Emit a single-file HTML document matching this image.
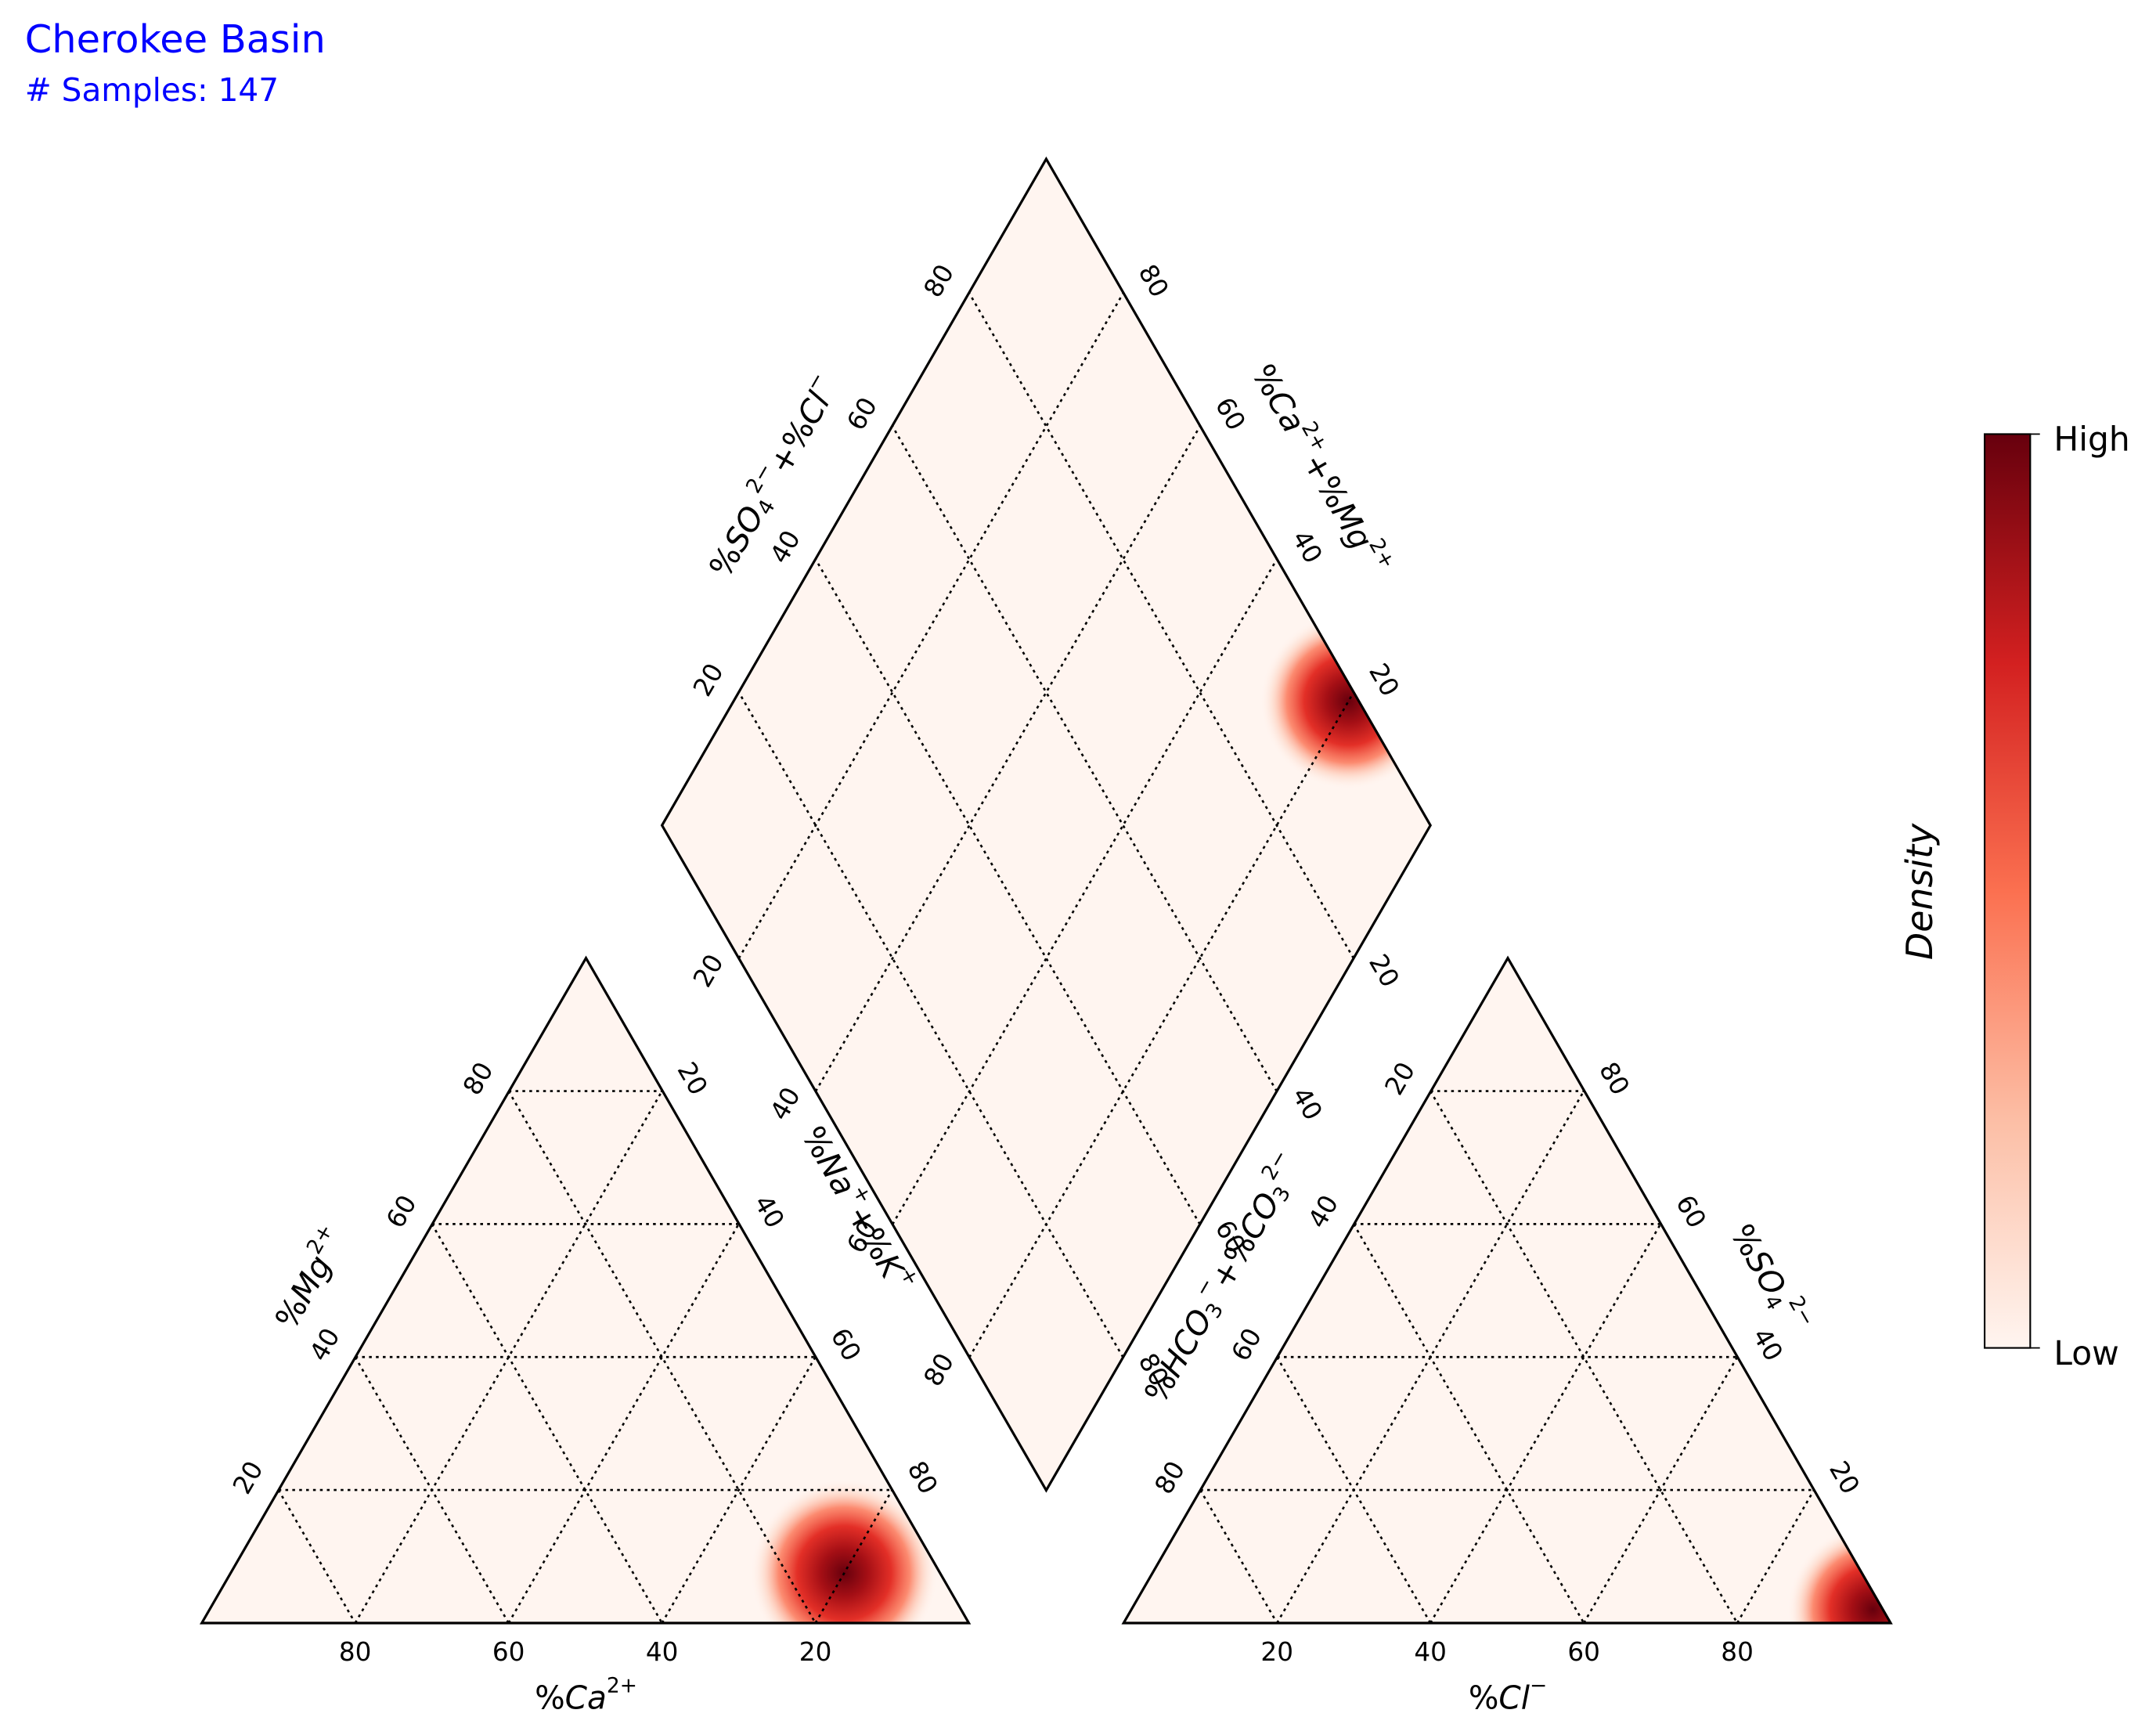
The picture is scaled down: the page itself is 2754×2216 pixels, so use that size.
<!DOCTYPE html>
<html><head><meta charset="utf-8"><style>
html,body{margin:0;padding:0;background:#fff}
svg{display:block}
text{font-family:"DejaVu Sans","Liberation Sans",sans-serif}
</style></head><body>
<svg id="chart" width="2754" height="2216" viewBox="0 0 1560 1255" preserveAspectRatio="none" xmlns="http://www.w3.org/2000/svg">
<defs>
<radialGradient id="blob">
<stop offset="0" stop-color="#67000d"/>
<stop offset="0.25" stop-color="#a50f15"/>
<stop offset="0.5" stop-color="#e32f27"/>
<stop offset="0.7" stop-color="#fb7050" stop-opacity="0.8"/>
<stop offset="0.85" stop-color="#fcbba1" stop-opacity="0.4"/>
<stop offset="1" stop-color="#fff5f0" stop-opacity="0"/>
</radialGradient>
<linearGradient id="cbar" x1="0" y1="1" x2="0" y2="0">
<stop offset="0" stop-color="#fff5f0"/><stop offset="0.25" stop-color="#fcbea5"/>
<stop offset="0.5" stop-color="#fb7050"/><stop offset="0.75" stop-color="#d32020"/>
<stop offset="1" stop-color="#67000d"/>
</linearGradient>
<clipPath id="clipL"><polygon points="146,1174 701,1174 424,693"/></clipPath>
<clipPath id="clipR"><polygon points="813,1174 1368,1174 1091,693"/></clipPath>
<clipPath id="clipD"><polygon points="757,115 1035,597 757,1078 479,597"/></clipPath>
</defs>
<text x="18" y="38" font-size="28" fill="#0000ff">Cherokee Basin</text>
<text x="18" y="73" font-size="23" fill="#0000ff"># Samples: 147</text>
<g id="plots"></g>
<g>
<rect x="1436" y="314" width="33" height="661" fill="url(#cbar)" stroke="#000" stroke-width="1.2"/>
<line x1="1469" y1="314" x2="1476" y2="314" stroke="#000"/>
<line x1="1469" y1="975" x2="1476" y2="975" stroke="#000"/>
<text x="1486" y="326" font-size="24">High</text>
<text x="1486" y="987" font-size="24">Low</text>
<text x="1398" y="645" font-size="26" font-style="italic" text-anchor="middle" transform="rotate(-90 1398 645)">Density</text>
</g>
</svg>
<script>
// Sample composition centres (fractions)
const cationCa = [0.125];
const cationMg = [0.075];
const cationNa = [0.80];
const anionCl = [0.967];
const anionSO4 = [0.02];
const tickValues = [20, 40, 60, 80];

const NS = "http://www.w3.org/2000/svg";
const g = document.getElementById('plots');
const W = 555, H = 481;
const L = {x:146, y:1174}, R = {x:813, y:1174};
const D = {bx:757, by:1078, u:{x:-278,y:-481}, v:{x:278,y:-481}};
function el(tag, attrs, parent){const e=document.createElementNS(NS,tag);for(const k in attrs)e.setAttribute(k,attrs[k]);(parent||g).appendChild(e);return e;}
function tri(o, right, top){ return {x:o.x + W*(right + top/2), y:o.y - H*top}; }
function dia(a, b){ return {x:D.bx + a*D.u.x + b*D.v.x, y:D.by + a*D.u.y + b*D.v.y}; }

let e;
e = el('polygon',{points:"146,1174 701,1174 424,693",fill:"#fff5f0"});
 
e = el('polygon',{points:"813,1174 1368,1174 1091,693",fill:"#fff5f0"});
 
e = el('polygon',{points:"757,115 1035,597 757,1078 479,597",fill:"#fff5f0"});
 

for (let i=0;i<cationCa.length;i++){
  const p = tri(L, cationNa[i], cationMg[i]);
  e = el('circle',{cx:p.x,cy:p.y,r:68,fill:"url(#blob)","clip-path":"url(#clipL)"});
   
  const q = tri(R, anionCl[i], anionSO4[i]);
  e = el('circle',{cx:q.x,cy:q.y,r:62,fill:"url(#blob)","clip-path":"url(#clipR)"});
   
  const d = dia(cationCa[i]+cationMg[i], anionCl[i]+anionSO4[i]);
  e = el('circle',{cx:d.x,cy:d.y,r:64,fill:"url(#blob)","clip-path":"url(#clipD)"});
   
}

function dline(a,b,name){
  e = el('line',{x1:a.x,y1:a.y,x2:b.x,y2:b.y,stroke:"#000","stroke-width":1.5,"stroke-dasharray":"2,3"});
   
}
[L,R].forEach(o=>{
  tickValues.forEach(t=>{
    const f=t/100;
    dline(tri(o,0,f), tri(o,1-f,f), 'grid-line');
    dline(tri(o,f,0), tri(o,f,1-f), 'grid-line');
    dline(tri(o,0,f), tri(o,f,0), 'grid-line');
  });
});
tickValues.forEach(t=>{
  const f=t/100;
  dline(dia(f,0), dia(f,1), 'grid-line');
  dline(dia(0,f), dia(1,f), 'grid-line');
});
[["146,1174 701,1174 424,693","cation-outline"],["813,1174 1368,1174 1091,693","anion-outline"],["757,115 1035,597 757,1078 479,597","diamond-outline"]].forEach(([pts,n])=>{
  e = el('polygon',{points:pts,fill:"none",stroke:"#000","stroke-width":1.8});
   
});

function label(x,y,txt,rot,size,name){
  e = el('text',{x:x,y:y,"font-size":size||18,"text-anchor":"middle","dominant-baseline":"central",transform:"rotate("+(rot||0)+" "+x+" "+y+")"});
  e.innerHTML = txt;
   
}
const TS = 18.5;
tickValues.forEach(t=>{
  const f=t/100;
  let p=tri(L,1-f,0); label(p.x,p.y+21,t,0,TS,'ca-tick');
  p=tri(L,0,f); label(p.x-22,p.y-9,t,-60,TS,'mg-tick');
  p=tri(L,1-f,f); label(p.x+22,p.y-9,100-t,60,TS,'na-tick');
  p=tri(R,f,0); label(p.x,p.y+21,t,0,TS,'cl-tick');
  p=tri(R,0,1-f); label(p.x-22,p.y-9,t,-60,TS,'hco3-tick');
  p=tri(R,1-f,f); label(p.x+22,p.y-9,t,60,TS,'so4-tick');
  p=dia(0,f); label(p.x+22,p.y+9,100-t,60,TS,'diamond-tick');
  p=dia(f,0); label(p.x-22,p.y+9,100-t,-60,TS,'diamond-tick');
  p=dia(f,1); label(p.x+22,p.y-9,t,60,TS,'diamond-tick');
  p=dia(1,f); label(p.x-22,p.y-9,t,-60,TS,'diamond-tick');
});
const AS = 23;
label(424,1228,'%<tspan font-style="italic">Ca</tspan><tspan font-size="15" dy="-9">2+</tspan>',0,AS,'ca-axis-title');
label(1091,1228,'%<tspan font-style="italic">Cl</tspan><tspan font-size="15" dy="-9">−</tspan>',0,AS,'cl-axis-title');
label(225,925,'%<tspan font-style="italic">Mg</tspan><tspan font-size="15" dy="-9">2+</tspan>',-60,AS,'mg-axis-title');
label(620,875,'%<tspan font-style="italic">Na</tspan><tspan font-size="15" dy="-9">+</tspan><tspan dy="9">+%</tspan><tspan font-style="italic">K</tspan><tspan font-size="15" dy="-9">+</tspan>',60,AS,'nak-axis-title');
label(885,925,'%<tspan font-style="italic">HCO</tspan><tspan font-size="15" dy="6">3</tspan><tspan font-size="15" dy="-15">−</tspan><tspan dy="9">+%</tspan><tspan font-style="italic">CO</tspan><tspan font-size="15" dy="6">3</tspan><tspan font-size="15" dy="-15">2−</tspan>',-60,AS,'hco3-axis-title');
label(1280,925,'%<tspan font-style="italic">SO</tspan><tspan font-size="15" dy="6">4</tspan><tspan font-size="15" dy="-15">2−</tspan>',60,AS,'so4-axis-title');
label(560,345,'%<tspan font-style="italic">SO</tspan><tspan font-size="15" dy="6">4</tspan><tspan font-size="15" dy="-15">2−</tspan><tspan dy="9">+%</tspan><tspan font-style="italic">Cl</tspan><tspan font-size="15" dy="-9">−</tspan>',-60,AS,'so4cl-axis-title');
label(955,340,'%<tspan font-style="italic">Ca</tspan><tspan font-size="15" dy="-9">2+</tspan><tspan dy="9">+%</tspan><tspan font-style="italic">Mg</tspan><tspan font-size="15" dy="-9">2+</tspan>',60,AS,'camg-axis-title');
</script>
</body></html>
